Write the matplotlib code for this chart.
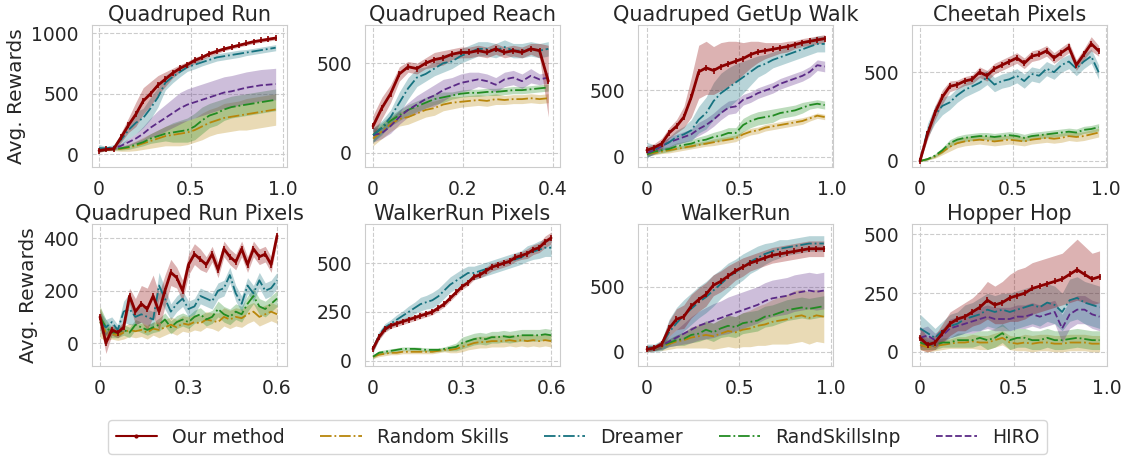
import numpy as np
import matplotlib
matplotlib.use("Agg")
import matplotlib.pyplot as plt
import seaborn as sns
from matplotlib.ticker import FuncFormatter

# --- Quadruped Run (x 0..0.96) ---
qr_ours = [30, 40, 45, 140, 240, 330, 440, 500, 570, 620, 670, 710, 740, 775, 800, 830, 850, 870, 885, 900, 915, 930, 940, 950, 960]
qr_ours_sd = [15, 10, 15, 40, 60, 100, 110, 100, 80, 60, 40, 30, 25, 25, 20, 20, 20, 15, 15, 15, 15, 15, 15, 15, 15]
qr_dreamer = [50, 50, 60, 120, 200, 260, 300, 380, 470, 590, 640, 680, 720, 740, 760, 780, 800, 810, 820, 830, 840, 850, 860, 870, 880]
qr_dreamer_sd = [30, 15, 20, 50, 70, 90, 80, 90, 80, 60, 50, 40, 35, 35, 30, 30, 30, 30, 30, 30, 25, 25, 25, 25, 25]
qr_hiro = [40, 45, 50, 70, 100, 130, 170, 220, 260, 300, 340, 380, 410, 430, 450, 470, 490, 510, 520, 535, 550, 560, 570, 575, 580]
qr_hiro_sd = [20, 10, 15, 20, 30, 40, 60, 80, 100, 110, 120, 130, 130, 130, 130, 130, 130, 130, 130, 130, 130, 130, 130, 130, 130]
qr_rsi = [40, 40, 45, 50, 60, 80, 100, 130, 150, 170, 180, 190, 200, 230, 280, 320, 340, 370, 390, 400, 410, 420, 430, 440, 450]
qr_rsi_sd = [20, 10, 10, 15, 20, 25, 30, 40, 50, 60, 80, 90, 100, 110, 110, 100, 100, 90, 90, 90, 90, 90, 90, 90, 90]
qr_rs = [40, 40, 40, 45, 55, 70, 90, 110, 130, 150, 160, 170, 180, 200, 230, 260, 280, 300, 310, 320, 330, 340, 350, 360, 370]
qr_rs_sd = [20, 10, 10, 20, 30, 40, 50, 60, 70, 80, 90, 100, 100, 100, 110, 110, 110, 120, 120, 120, 130, 130, 130, 130, 130]

# --- Quadruped Reach (x 0..0.39) ---
re_ours = [150, 250, 330, 440, 480, 470, 500, 520, 530, 550, 560, 560, 570, 560, 580, 560, 570, 560, 580, 570, 400]
re_ours_sd = [60, 60, 50, 40, 30, 30, 30, 40, 40, 30, 30, 30, 30, 30, 30, 30, 30, 30, 30, 40, 200]
re_dreamer = [100, 140, 200, 280, 360, 420, 440, 470, 500, 510, 540, 560, 580, 580, 570, 590, 570, 570, 580, 570, 580]
re_dreamer_sd = [40, 40, 40, 60, 60, 50, 40, 40, 50, 40, 40, 40, 40, 40, 40, 40, 40, 40, 40, 40, 40]
re_hiro = [100, 110, 150, 200, 240, 270, 300, 320, 350, 370, 390, 400, 410, 400, 380, 410, 420, 400, 430, 410, 420]
re_hiro_sd = [40, 30, 40, 40, 40, 50, 50, 60, 60, 50, 50, 50, 40, 40, 40, 40, 40, 40, 40, 30, 30]
re_rsi = [100, 140, 180, 210, 240, 260, 280, 300, 310, 320, 330, 335, 335, 340, 340, 345, 350, 350, 355, 360, 365]
re_rsi_sd = [40, 30, 30, 30, 30, 30, 30, 30, 30, 20, 20, 20, 20, 20, 20, 20, 20, 20, 20, 20, 20]
re_rs = [80, 120, 160, 190, 200, 220, 240, 250, 270, 280, 285, 290, 295, 290, 300, 295, 300, 300, 305, 300, 305]
re_rs_sd = [40, 40, 40, 40, 40, 40, 40, 40, 35, 35, 30, 30, 30, 30, 30, 25, 25, 25, 25, 25, 25]

# --- Quadruped GetUp Walk (x 0..0.96) ---
gw_ours = [50, 70, 100, 180, 230, 300, 450, 640, 670, 650, 680, 700, 720, 740, 770, 790, 800, 810, 820, 830, 845, 860, 870, 880, 890]
gw_ours_sd = [30, 30, 40, 40, 50, 80, 150, 200, 200, 180, 180, 170, 150, 120, 100, 80, 60, 50, 40, 40, 30, 30, 30, 30, 30]
gw_dreamer = [50, 60, 80, 110, 150, 170, 200, 280, 330, 420, 480, 520, 560, 600, 640, 680, 700, 730, 750, 770, 790, 810, 830, 850, 850]
gw_dreamer_sd = [60, 30, 30, 40, 50, 60, 80, 100, 120, 140, 150, 150, 140, 120, 100, 80, 70, 60, 60, 60, 60, 60, 60, 60, 60]
gw_hiro = [30, 50, 80, 110, 130, 150, 170, 210, 240, 280, 330, 370, 380, 430, 450, 480, 500, 520, 550, 570, 590, 610, 640, 690, 680]
gw_hiro_sd = [30, 30, 30, 40, 40, 40, 40, 50, 50, 50, 50, 50, 50, 40, 40, 40, 40, 40, 40, 40, 40, 40, 40, 40, 40]
gw_rsi = [20, 40, 50, 60, 80, 90, 100, 120, 130, 150, 160, 180, 180, 240, 270, 290, 300, 310, 330, 340, 350, 370, 390, 400, 390]
gw_rsi_sd = [20, 20, 20, 20, 25, 25, 30, 30, 35, 35, 40, 40, 40, 50, 50, 50, 50, 50, 40, 40, 40, 40, 30, 30, 30]
gw_rs = [20, 30, 40, 50, 60, 70, 80, 90, 100, 110, 120, 130, 140, 170, 190, 200, 220, 230, 240, 250, 260, 270, 290, 310, 300]
gw_rs_sd = [15, 15, 15, 20, 20, 20, 20, 20, 20, 25, 25, 25, 25, 25, 25, 25, 25, 25, 25, 25, 25, 25, 20, 20, 20]

# --- Cheetah Pixels (x 0..0.96) ---
ch_ours = [0, 150, 270, 360, 420, 430, 450, 460, 500, 480, 520, 540, 560, 580, 550, 590, 600, 620, 580, 610, 640, 540, 600, 660, 620]
ch_ours_sd = [5, 30, 40, 40, 30, 25, 25, 25, 30, 30, 30, 30, 30, 30, 30, 30, 30, 30, 30, 30, 30, 30, 30, 40, 30]
ch_dreamer = [0, 170, 260, 310, 330, 370, 400, 420, 440, 470, 430, 450, 460, 480, 450, 490, 480, 520, 500, 540, 560, 520, 560, 590, 500]
ch_dreamer_sd = [5, 40, 50, 50, 40, 40, 40, 40, 40, 40, 40, 40, 40, 40, 40, 40, 40, 40, 40, 40, 40, 40, 40, 40, 40]
ch_rsi = [0, 10, 30, 60, 100, 120, 130, 135, 140, 140, 135, 140, 145, 140, 130, 140, 145, 150, 155, 160, 165, 160, 175, 180, 190]
ch_rsi_sd = [5, 5, 10, 15, 20, 20, 20, 20, 20, 20, 20, 20, 20, 20, 20, 20, 20, 20, 20, 20, 20, 20, 20, 20, 20]
ch_rs = [0, 10, 25, 50, 80, 100, 110, 115, 120, 115, 110, 115, 120, 115, 110, 120, 125, 130, 125, 130, 140, 135, 140, 150, 160]
ch_rs_sd = [5, 5, 10, 15, 25, 25, 25, 25, 25, 25, 25, 25, 25, 25, 25, 25, 25, 25, 25, 25, 25, 25, 25, 25, 25]

# --- Quadruped Run Pixels (x 0..0.6) ---
qrp_ours = [100, 0, 50, 40, 60, 180, 120, 150, 130, 180, 120, 200, 270, 250, 200, 300, 340, 320, 300, 340, 280, 360, 330, 310, 360, 300, 360, 330, 340, 300, 410]
qrp_ours_sd = [30, 40, 20, 20, 20, 30, 50, 70, 80, 80, 70, 60, 50, 40, 40, 40, 40, 40, 30, 30, 30, 30, 30, 30, 30, 30, 30, 30, 30, 30, 20]
qrp_dreamer = [80, 60, 80, 50, 120, 130, 100, 110, 100, 90, 220, 170, 120, 150, 170, 130, 140, 180, 170, 160, 200, 210, 260, 190, 150, 220, 190, 240, 200, 210, 240]
qrp_dreamer_sd = [40, 30, 20, 20, 40, 60, 30, 30, 30, 30, 50, 40, 30, 30, 30, 30, 30, 30, 30, 30, 30, 30, 30, 30, 30, 30, 30, 30, 30, 30, 30]
qrp_rsi = [100, 60, 40, 40, 50, 40, 70, 60, 50, 60, 70, 90, 60, 80, 90, 80, 100, 110, 90, 100, 130, 110, 100, 120, 110, 150, 180, 140, 130, 150, 170]
qrp_rsi_sd = [40, 30, 20, 20, 20, 20, 20, 20, 20, 20, 25, 25, 25, 25, 25, 25, 25, 25, 25, 25, 30, 30, 30, 30, 30, 30, 30, 30, 30, 30, 30]
qrp_rs = [80, 40, 35, 30, 40, 50, 45, 50, 40, 55, 50, 60, 70, 60, 75, 70, 80, 75, 90, 85, 80, 100, 90, 100, 95, 110, 120, 100, 110, 120, 110]
qrp_rs_sd = [60, 30, 20, 20, 25, 25, 25, 25, 25, 25, 30, 30, 30, 30, 30, 30, 30, 30, 30, 30, 35, 35, 35, 35, 35, 35, 35, 35, 35, 35, 35]

# --- WalkerRun Pixels (x 0..0.6) ---
wrp_ours = [60, 120, 160, 180, 190, 200, 210, 220, 230, 240, 250, 270, 290, 320, 350, 380, 400, 430, 440, 460, 480, 490, 500, 510, 530, 540, 550, 570, 580, 610, 630]
wrp_ours_sd = [15, 15, 15, 15, 15, 15, 15, 15, 15, 15, 15, 15, 15, 15, 15, 15, 15, 15, 15, 20, 20, 20, 20, 20, 20, 20, 25, 25, 25, 30, 30]
wrp_dreamer = [60, 130, 170, 190, 210, 230, 250, 270, 290, 300, 310, 330, 360, 390, 410, 430, 450, 450, 460, 470, 480, 490, 500, 510, 520, 530, 550, 560, 570, 580, 580]
wrp_dreamer_sd = [20, 20, 20, 20, 25, 25, 30, 30, 35, 35, 40, 40, 40, 40, 40, 40, 35, 35, 35, 35, 35, 35, 35, 35, 35, 35, 40, 40, 45, 45, 45]
wrp_rsi = [20, 40, 45, 50, 55, 60, 60, 60, 58, 55, 55, 55, 60, 65, 70, 90, 100, 110, 115, 110, 120, 120, 125, 120, 125, 130, 130, 130, 130, 135, 130]
wrp_rsi_sd = [10, 10, 10, 10, 10, 10, 10, 10, 10, 10, 10, 10, 10, 15, 20, 30, 30, 30, 30, 30, 30, 30, 30, 30, 30, 30, 30, 30, 30, 30, 30]
wrp_rs = [20, 30, 35, 40, 40, 45, 45, 45, 45, 45, 45, 50, 55, 55, 60, 70, 80, 90, 95, 95, 100, 100, 100, 105, 100, 105, 100, 105, 100, 105, 100]
wrp_rs_sd = [10, 10, 10, 10, 10, 10, 10, 10, 10, 10, 10, 10, 10, 15, 20, 25, 25, 30, 30, 30, 30, 30, 30, 30, 30, 30, 30, 30, 30, 30, 30]

# --- WalkerRun (x 0..0.96) ---
wr_ours = [20, 30, 60, 180, 250, 270, 350, 400, 440, 510, 540, 580, 620, 650, 680, 700, 720, 740, 750, 760, 770, 780, 790, 790, 790]
wr_ours_sd = [20, 20, 30, 60, 80, 90, 90, 90, 90, 80, 80, 80, 70, 70, 60, 60, 60, 60, 60, 60, 60, 60, 60, 60, 60]
wr_dreamer = [30, 30, 50, 150, 220, 280, 330, 380, 420, 470, 520, 570, 610, 650, 690, 720, 750, 770, 790, 800, 810, 820, 830, 830, 830]
wr_dreamer_sd = [30, 30, 40, 100, 120, 120, 120, 120, 120, 120, 110, 110, 100, 100, 90, 90, 80, 70, 70, 60, 60, 60, 60, 60, 60]
wr_hiro = [30, 30, 50, 80, 110, 140, 170, 200, 220, 240, 260, 280, 300, 320, 340, 360, 390, 410, 420, 430, 450, 460, 470, 460, 470]
wr_hiro_sd = [20, 20, 30, 40, 60, 80, 100, 110, 120, 130, 130, 140, 140, 140, 140, 140, 140, 140, 140, 140, 140, 140, 140, 140, 140]
wr_rsi = [30, 30, 50, 70, 90, 100, 130, 140, 170, 150, 180, 200, 190, 220, 230, 240, 270, 280, 300, 320, 330, 340, 330, 340, 350]
wr_rsi_sd = [20, 20, 30, 30, 40, 50, 60, 60, 70, 70, 70, 80, 80, 80, 80, 80, 80, 80, 80, 80, 80, 80, 80, 80, 80]
wr_rs = [20, 30, 40, 60, 80, 90, 110, 120, 130, 120, 140, 160, 150, 170, 180, 200, 210, 230, 240, 250, 270, 280, 260, 280, 270]
wr_rs_sd = [20, 20, 30, 40, 50, 60, 80, 90, 100, 100, 110, 120, 120, 130, 140, 150, 160, 170, 180, 190, 200, 200, 200, 200, 200]

# --- Hopper Hop (x 0..0.96) ---
hh_ours = [60, 30, 40, 80, 120, 140, 150, 170, 190, 220, 200, 210, 230, 240, 250, 270, 280, 290, 300, 310, 330, 350, 330, 310, 320]
hh_ours_sd = [50, 30, 30, 40, 50, 50, 60, 60, 70, 80, 80, 90, 100, 110, 110, 110, 110, 110, 110, 110, 120, 130, 120, 110, 110]
hh_dreamer = [100, 80, 60, 90, 110, 120, 140, 150, 160, 180, 170, 180, 170, 180, 190, 200, 190, 210, 200, 170, 220, 230, 210, 200, 190]
hh_dreamer_sd = [60, 50, 40, 40, 50, 50, 60, 60, 70, 70, 70, 70, 80, 80, 80, 80, 80, 80, 80, 80, 90, 90, 90, 90, 90]
hh_hiro = [60, 70, 50, 70, 100, 110, 120, 130, 140, 150, 140, 140, 140, 150, 150, 160, 150, 160, 170, 100, 160, 180, 180, 160, 150]
hh_hiro_sd = [40, 40, 30, 30, 40, 40, 40, 50, 50, 50, 50, 50, 50, 50, 50, 50, 50, 50, 50, 60, 60, 60, 60, 60, 60]
hh_rsi = [40, 30, 30, 40, 40, 50, 50, 50, 60, 50, 60, 80, 50, 60, 60, 50, 50, 60, 50, 50, 55, 60, 55, 50, 50]
hh_rsi_sd = [30, 20, 20, 20, 20, 30, 30, 30, 30, 40, 40, 40, 40, 40, 40, 40, 40, 40, 40, 40, 40, 40, 40, 40, 40]
hh_rs = [30, 20, 25, 30, 35, 40, 40, 45, 40, 40, 50, 60, 40, 35, 40, 35, 40, 40, 35, 35, 40, 40, 40, 35, 35]
hh_rs_sd = [20, 20, 20, 20, 20, 25, 25, 30, 30, 30, 30, 30, 30, 30, 35, 35, 35, 35, 35, 35, 35, 35, 35, 35, 35]

methods = ["Our method", "Random Skills", "Dreamer", "RandSkillsInp", "HIRO"]
colors = {"Our method": "#8b0000", "Random Skills": "#b8860b", "Dreamer": "#16727f",
          "RandSkillsInp": "#228b22", "HIRO": "#5b2a86"}
styles = {"Our method": "-", "Random Skills": "-.", "Dreamer": "-.",
          "RandSkillsInp": "-.", "HIRO": "--"}

panels = [
    ("Quadruped Run", 0.96, (-105, 1065), [0, 500, 1000], [0, 0.5, 1.0], (-0.038, 1.022),
     {"Random Skills": (qr_rs, qr_rs_sd), "RandSkillsInp": (qr_rsi, qr_rsi_sd), "HIRO": (qr_hiro, qr_hiro_sd),
      "Dreamer": (qr_dreamer, qr_dreamer_sd), "Our method": (qr_ours, qr_ours_sd)}),
    ("Quadruped Reach", 0.39, (-78, 711), [0, 500], [0, 0.2, 0.4], (-0.018, 0.416),
     {"Random Skills": (re_rs, re_rs_sd), "RandSkillsInp": (re_rsi, re_rsi_sd), "HIRO": (re_hiro, re_hiro_sd),
      "Dreamer": (re_dreamer, re_dreamer_sd), "Our method": (re_ours, re_ours_sd)}),
    ("Quadruped GetUp Walk", 0.96, (-76, 990), [0, 500], [0, 0.5, 1.0], (-0.048, 1.005),
     {"Random Skills": (gw_rs, gw_rs_sd), "RandSkillsInp": (gw_rsi, gw_rsi_sd), "HIRO": (gw_hiro, gw_hiro_sd),
      "Dreamer": (gw_dreamer, gw_dreamer_sd), "Our method": (gw_ours, gw_ours_sd)}),
    ("Cheetah Pixels", 0.96, (-34, 764), [0, 500], [0, 0.5, 1.0], (-0.043, 1.005),
     {"Random Skills": (ch_rs, ch_rs_sd), "RandSkillsInp": (ch_rsi, ch_rsi_sd),
      "Dreamer": (ch_dreamer, ch_dreamer_sd), "Our method": (ch_ours, ch_ours_sd)}),
    ("Quadruped Run Pixels", 0.6, (-88, 454), [0, 200, 400], [0, 0.3, 0.6], (-0.027, 0.634),
     {"Random Skills": (qrp_rs, qrp_rs_sd), "RandSkillsInp": (qrp_rsi, qrp_rsi_sd),
      "Dreamer": (qrp_dreamer, qrp_dreamer_sd), "Our method": (qrp_ours, qrp_ours_sd)}),
    ("WalkerRun Pixels", 0.6, (-28, 700), [0, 250, 500], [0, 0.3, 0.6], (-0.027, 0.63),
     {"Random Skills": (wrp_rs, wrp_rs_sd), "RandSkillsInp": (wrp_rsi, wrp_rsi_sd),
      "Dreamer": (wrp_dreamer, wrp_dreamer_sd), "Our method": (wrp_ours, wrp_ours_sd)}),
    ("WalkerRun", 0.96, (-108, 977), [0, 500], [0, 0.5, 1.0], (-0.049, 1.01),
     {"Random Skills": (wr_rs, wr_rs_sd), "RandSkillsInp": (wr_rsi, wr_rsi_sd), "HIRO": (wr_hiro, wr_hiro_sd),
      "Dreamer": (wr_dreamer, wr_dreamer_sd), "Our method": (wr_ours, wr_ours_sd)}),
    ("Hopper Hop", 0.96, (-60, 543), [0, 250, 500], [0, 0.5, 1.0], (-0.043, 1.0),
     {"Random Skills": (hh_rs, hh_rs_sd), "RandSkillsInp": (hh_rsi, hh_rsi_sd), "HIRO": (hh_hiro, hh_hiro_sd),
      "Dreamer": (hh_dreamer, hh_dreamer_sd), "Our method": (hh_ours, hh_ours_sd)}),
]

sns.set_style("whitegrid", {"grid.linestyle": "--", "axes.edgecolor": ".8"})
plt.rcParams["font.family"] = ["DejaVu Sans"]

fig = plt.figure(figsize=(11.24, 4.57), dpi=100)
lefts = [0.0819, 0.3247, 0.5676, 0.8114]
bottoms = [0.6346, 0.1991]
w, h = 0.1735, 0.31

xfmt = FuncFormatter(lambda v, p: "0" if abs(v) < 1e-9 else f"{v:.1f}")
handles = {}
for k, (title, xmax, ylim, yticks, xticks, xlim, series) in enumerate(panels):
    ax = fig.add_axes([lefts[k % 4], bottoms[k // 4], w, h])
    for name, (mean, sd) in series.items():
        mean = np.array(mean, dtype=float)
        sd = np.array(sd, dtype=float)
        x = np.linspace(0, xmax, len(mean))
        c = colors[name]
        ax.fill_between(x, mean - sd, mean + sd, color=c, alpha=0.3, lw=0)
        if name == "Our method":
            ax.plot(x, mean, color=c, ls="-", lw=2, marker="|", ms=4, mew=1.2)
        else:
            ax.plot(x, mean, color=c, ls=styles[name], lw=1.3)
    ax.set_xlim(*xlim)
    ax.set_ylim(*ylim)
    ax.set_yticks(yticks)
    ax.set_xticks(xticks)
    ax.xaxis.set_major_formatter(xfmt)
    ax.set_title(title, fontsize=15, pad=3, color=".15")
    ax.tick_params(labelsize=13.5, colors=".15", pad=6)
    if k % 4 == 0:
        ax.set_ylabel("Avg. Rewards", fontsize=14.5, color=".15")

# thinner legend handles, as in the original figure
for m in methods:
    if m == "Our method":
        handles[m] = plt.Line2D([], [], color=colors[m], ls="-", lw=1.5, marker=".", ms=4)
    else:
        handles[m] = plt.Line2D([], [], color=colors[m], ls=styles[m], lw=1.3)

fig.legend([handles[m] for m in methods], methods, loc="lower center", ncol=5,
           bbox_to_anchor=(0.514, -0.014), fontsize=13.5, handlelength=2.2,
           columnspacing=1.9, handletextpad=0.8, frameon=True)

fig.savefig("out.png", dpi=100)
